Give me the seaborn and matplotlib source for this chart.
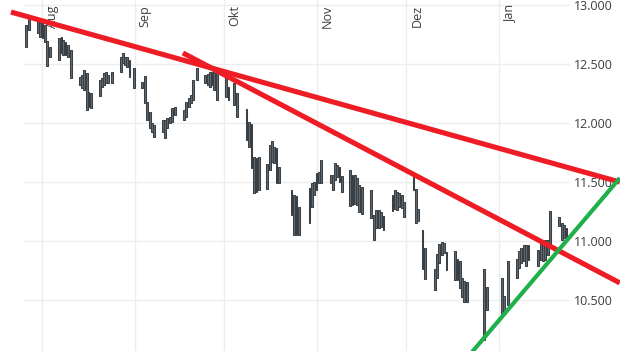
import matplotlib
matplotlib.use("Agg")
import matplotlib.pyplot as plt
import matplotlib.dates as mdates
from matplotlib import transforms
import pandas as pd
import seaborn as sns

# ---- data ----
base_date = "2018-08-01"
bar_day = [-5.4, -4.5,
           -1.4, -0.7, 0.1, 0.8, 1.7, 2.6,
           5.6, 6.4, 7.0, 7.8, 8.5, 9.6,
           12.6, 13.4, 14.1, 14.9, 15.5, 16.2,
           19.3, 20.0, 20.7, 21.3, 22.0, 23.3,
           26.3, 27.0, 27.8, 28.5, 29.2, 30.6,
           33.5, 34.4, 35.2, 36.0, 36.7, 37.4,
           40.4, 41.2, 41.9, 42.7, 43.4, 44.5,
           47.5, 48.2, 49.1, 49.7, 50.4, 51.7,
           54.6, 55.4, 56.2, 57.0, 57.6, 58.5,
           61.5, 62.4, 64.2, 65.2,
           68.4, 69.3, 70.1, 70.9, 71.8, 72.6,
           75.4, 76.2, 77.0, 77.7, 78.5, 79.3,
           83.5, 84.3, 85.2, 86.0,
           89.5, 90.4, 91.1, 91.9, 92.7, 93.5,
           96.6, 97.3, 98.1, 98.8, 99.6, 100.4,
           103.1, 103.9, 104.7, 105.4, 106.2, 107.0,
           110.1, 111.1, 111.9, 112.7, 113.5, 114.3,
           117.3, 118.1, 118.8, 119.6, 120.4, 121.3,
           124.4, 125.2, 126.0, 127.4, 128.2,
           131.5, 132.2, 133.0, 133.8, 134.6, 135.4,
           138.3, 139.1, 139.9, 140.6, 141.4, 142.2,
           148.0, 149.0,
           153.9, 154.7, 155.9,
           159.0, 159.8, 160.5, 161.3, 162.0, 162.9,
           166.2, 167.0, 167.7, 168.5, 169.3, 170.1,
           173.1, 174.0, 174.8, 175.6]
bar_high = [12833, 12884,
            12875, 12850, 12858, 12833, 12697, 12647,
            12723, 12731, 12706, 12689, 12664, 12621,
            12392, 12409, 12452, 12426, 12265, 12257,
            12367, 12384, 12426, 12435, 12409, 12435,
            12562, 12596, 12562, 12562, 12536, 12469,
            12350, 12401, 12180, 12096, 12003, 11986,
            12028, 12028, 12045, 12053, 12130, 12138,
            12113, 12180, 12214, 12240, 12367, 12469,
            12409, 12418, 12435, 12435, 12452, 12435,
            12384, 12308, 12342, 12257,
            12121, 12011, 11994, 11714, 11706, 11714,
            11655, 11816, 11850, 11799, 11791, 11630,
            11435, 11392, 11384, 11291,
            11452, 11494, 11503, 11579, 11587, 11689,
            11562, 11562, 11664, 11647, 11630, 11553,
            11604, 11562, 11562, 11537, 11477, 11460,
            11435, 11223, 11265, 11265, 11248, 11214,
            11392, 11435, 11418, 11409, 11392, 11333,
            11562, 11443, 11274, 11096, 10943,
            10765, 10892, 10977, 10994, 10986, 10909,
            10918, 10850, 10833, 10689, 10664, 10655,
            10765, 10613,
            10689, 10536, 10833,
            10850, 10918, 10943, 10969, 10969, 10969,
            10926, 10994, 10977, 11011, 11011, 11257,
            11206, 11155, 11138, 11113]
bar_low = [12647, 12791,
           12765, 12731, 12723, 12689, 12486, 12562,
           12536, 12596, 12579, 12579, 12562, 12384,
           12325, 12299, 12282, 12113, 12138, 12130,
           12231, 12308, 12325, 12342, 12342, 12342,
           12435, 12511, 12494, 12477, 12392, 12299,
           12299, 12172, 12028, 11960, 11926, 11884,
           11926, 11875, 11960, 12003, 12011, 12070,
           12028, 12053, 12138, 12172, 12197, 12367,
           12342, 12325, 12308, 12325, 12282, 12197,
           12223, 12197, 12155, 12053,
           11858, 11799, 11621, 11409, 11418, 11435,
           11443, 11604, 11672, 11664, 11494, 11494,
           11223, 11053, 11053, 11053,
           11155, 11291, 11392, 11435, 11494, 11494,
           11494, 11435, 11519, 11545, 11503, 11418,
           11299, 11308, 11316, 11308, 11248, 11231,
           11197, 11011, 11113, 11113, 11121, 11096,
           11257, 11274, 11265, 11291, 11282, 11206,
           11435, 11155, 11172, 10765, 10680,
           10587, 10689, 10816, 10884, 10901, 10757,
           10672, 10672, 10604, 10528, 10486, 10486,
           10163, 10418,
           10393, 10401, 10460,
           10689, 10774, 10816, 10833, 10791, 10841,
           10791, 10841, 10833, 10841, 10884, 10969,
           11130, 11011, 11028, 11011]

# trend lines: (day offset, value) end points
red_long_day = [-10.5, 193.5]
red_long_val = [12943, 11502]
red_steep_day = [47.1, 193.5]
red_steep_val = [12596, 10647]
green_day = [144.0, 193.5]
green_val = [10062, 11536]

month_starts = ["2018-08-01", "2018-09-01", "2018-10-01", "2018-11-01", "2018-12-01", "2019-01-01"]
month_labels = ["Aug", "Sep", "Okt", "Nov", "Dez", "Jan"]
y_ticks = [10500, 11000, 11500, 12000, 12500, 13000]
y_tick_labels = ["10.500", "11.000", "11.500", "12.000", "12.500", "13.000"]

# ---- styling ----
sns.set_theme(style="white")
plt.rcParams['font.family'] = ['Open Sans', 'DejaVu Sans']

base = pd.Timestamp(base_date)
def to_num(days):
    return mdates.date2num(base + pd.to_timedelta(pd.Series(days, dtype=float), unit="D"))

fig = plt.figure(figsize=(6.2, 3.51), dpi=100)
fig.patch.set_facecolor("white")
ax = fig.add_axes([24 / 620, 0, 546 / 620, 1])
ax.set_facecolor("white")

xb = to_num(bar_day)
heights = [h - l for h, l in zip(bar_high, bar_low)]
ax.bar(xb, heights, bottom=bar_low, width=0.6, color="#626a70",
       edgecolor="#394045", linewidth=0.75, zorder=2)

df_r1 = pd.DataFrame({"x": to_num(red_long_day), "y": red_long_val})
df_r2 = pd.DataFrame({"x": to_num(red_steep_day), "y": red_steep_val})
df_g = pd.DataFrame({"x": to_num(green_day), "y": green_val})
sns.lineplot(data=df_r1, x="x", y="y", ax=ax, color="#ee1c25", linewidth=3.7,
             clip_on=False, zorder=4, solid_capstyle="butt", estimator=None)
sns.lineplot(data=df_r2, x="x", y="y", ax=ax, color="#ee1c25", linewidth=3.7,
             clip_on=False, zorder=4, solid_capstyle="butt", estimator=None)
sns.lineplot(data=df_g, x="x", y="y", ax=ax, color="#1fb04b", linewidth=3.0,
             clip_on=False, zorder=5, solid_capstyle="butt", estimator=None)

ax.set_xlim(to_num([-6.13])[0], to_num([176.8])[0])
ax.set_ylim(10070, 13045)

mx = mdates.date2num(pd.to_datetime(month_starts))
ax.set_xticks(mx)
ax.set_xticklabels([])
ax.set_yticks(y_ticks)
ax.set_yticklabels(y_tick_labels)
ax.yaxis.tick_right()
ax.tick_params(axis="x", length=0)
ax.tick_params(axis="y", length=0, pad=3, labelsize=9, labelcolor="#3d3d3d")
ax.grid(True, color="#ededed", linewidth=1.0)
ax.set_axisbelow(True)
for s in ax.spines.values():
    s.set_visible(False)
ax.set_xlabel("")
ax.set_ylabel("")

trans = transforms.blended_transform_factory(ax.transData, ax.transAxes)
trans = transforms.offset_copy(trans, fig=fig, x=4, y=-5, units="dots")
for m, lab in zip(mx, month_labels):
    ax.text(m, 1.0, lab, rotation=90, ha="left", va="top", fontsize=9,
            color="#3d3d3d", transform=trans, zorder=1)

fig.savefig("out.png", dpi=100, facecolor="white")
